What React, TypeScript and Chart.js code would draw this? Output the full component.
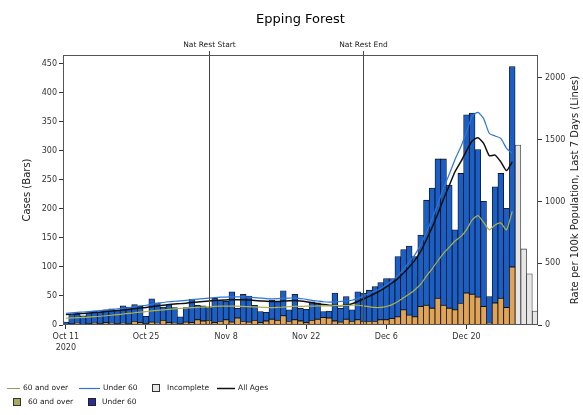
import React, { useEffect, useRef } from 'react';
import { Chart, registerables } from 'chart.js';
Chart.register(...registerables);

const dates = [
  'Oct 11','Oct 12','Oct 13','Oct 14','Oct 15','Oct 16','Oct 17','Oct 18','Oct 19','Oct 20','Oct 21','Oct 22','Oct 23','Oct 24','Oct 25','Oct 26','Oct 27','Oct 28','Oct 29','Oct 30','Oct 31',
  'Nov 1','Nov 2','Nov 3','Nov 4','Nov 5','Nov 6','Nov 7','Nov 8','Nov 9','Nov 10','Nov 11','Nov 12','Nov 13','Nov 14','Nov 15','Nov 16','Nov 17','Nov 18','Nov 19','Nov 20','Nov 21','Nov 22','Nov 23','Nov 24','Nov 25','Nov 26','Nov 27','Nov 28','Nov 29','Nov 30',
  'Dec 1','Dec 2','Dec 3','Dec 4','Dec 5','Dec 6','Dec 7','Dec 8','Dec 9','Dec 10','Dec 11','Dec 12','Dec 13','Dec 14','Dec 15','Dec 16','Dec 17','Dec 18','Dec 19','Dec 20','Dec 21','Dec 22','Dec 23','Dec 24','Dec 25','Dec 26','Dec 27','Dec 28','Dec 29','Dec 30','Dec 31',
  'Jan 1'
];
const tickDates = ['Oct 11', 'Oct 25', 'Nov 8', 'Nov 22', 'Dec 6', 'Dec 20'];
const firstTickYear = '2020';

const over60Cases = [
  1,2,3,1,2,3,2,4,3,2,3,2,6,4,2,5,3,8,4,3,2,5,4,9,7,8,4,6,9,5,12,6,5,8,4,7,10,8,16,6,9,7,4,8,10,13,12,7,5,10,6,
  9,6,6,6,9,9,11,14,26,17,14,32,34,29,46,34,29,26,37,55,53,48,32,3,38,46,30,100
];
const under60Cases = [
  4,16,16,15,19,21,20,22,25,23,30,29,29,28,13,40,35,23,31,27,12,25,40,25,26,22,42,36,32,52,17,47,45,26,19,15,33,33,43,20,44,22,23,32,28,10,12,48,24,39,20,
  48,49,54,60,64,71,69,104,104,119,104,123,181,207,240,252,212,138,224,307,312,254,181,46,200,215,171,345
];
const incompleteDates = ['Dec 29', 'Dec 30', 'Dec 31', 'Jan 1'];
const incompleteCases = [310, 131, 88, 24];

const rateOver60 = [
  55,57,59,61,64,67,71,75,79,84,89,
  94,99,104,109,114,119,123,127,131,134,
  137,140,142,145,147,150,152,152,153,152,
  150,148,146,144,142,140,142,145,148,150,
  150,152,153,154,155,155,156,157,158,160,
  160,155,148,142,142,150,165,190,220,250,
  285,330,395,455,520,580,630,680,715,770,
  850,885,830,770,810,825,770,920
];
const rateUnder60 = [
  95,98,102,105,108,112,116,120,125,130,135,
  140,148,155,160,168,175,182,188,192,196,
  200,205,210,214,218,222,225,226,228,228,
  227,225,222,218,214,212,213,216,218,220,
  214,208,200,194,188,185,186,190,195,200,
  215,235,255,275,295,325,360,400,450,510,
  570,650,750,860,980,1110,1220,1340,1440,1560,
  1690,1720,1670,1550,1530,1510,1430,1390
];
const rateAllAges = [
  85,88,91,94,97,101,105,109,113,117,121,
  126,132,137,142,148,154,160,165,169,173,
  177,182,187,191,195,198,201,203,205,205,
  204,202,199,195,192,190,191,194,196,198,
  194,188,180,172,165,160,157,156,160,172,
  190,210,232,255,280,308,340,375,420,470,
  525,595,690,790,900,1020,1130,1240,1320,1410,
  1490,1515,1470,1370,1375,1320,1250,1320
];

const restrictionDates = ['Nov 5', 'Dec 2'];
const restrictionLabels = ['Nat Rest Start', 'Nat Rest End'];

const casesMax = 465;
const casesTicks = [0, 50, 100, 150, 200, 250, 300, 350, 400, 450];
const rateMax = 2185;
const rateTicks = [0, 500, 1000, 1500, 2000];

const titleText = 'Epping Forest';
const leftTitle = 'Cases (Bars)';
const rightTitle = 'Rate per 100k Population, Last 7 Days (Lines)';

const C = {
  barBlue: '#1a5fc8',
  barOrange: '#e0a458',
  incFill: '#e6e6e6',
  incEdge: '#3a3a3a',
  lineOlive: '#b0b04a',
  lineBlue: '#2f74d6',
  lineBlack: '#111111',
  legOlive: '#a9a95e',
  legNavy: '#2c2c94',
  text: '#222222',
};
const FONT = '"DejaVu Sans", "Liberation Sans", sans-serif';

const decor = {
  id: 'decor',
  afterDatasetsDraw(chart: any) {
    const { ctx, chartArea: a, scales } = chart;
    ctx.save();
    ctx.strokeStyle = '#444';
    ctx.lineWidth = 1;
    restrictionDates.forEach((d, k) => {
      const x = Math.round(scales.x.getPixelForValue(dates.indexOf(d))) + 0.5;
      ctx.beginPath();
      ctx.moveTo(x, a.top);
      ctx.lineTo(x, a.bottom);
      ctx.moveTo(x, a.top - 4);
      ctx.lineTo(x, a.top);
      ctx.stroke();
      ctx.fillStyle = C.text;
      ctx.font = `7.5px ${FONT}`;
      ctx.textAlign = 'center';
      ctx.textBaseline = 'middle';
      ctx.fillText(restrictionLabels[k], x, a.top - 10);
    });
    ctx.strokeStyle = '#555';
    ctx.strokeRect(a.left + 0.5, a.top + 0.5, a.right - a.left - 1, a.bottom - a.top - 1);
    ctx.restore();
  },
  afterDraw(chart: any) {
    const { ctx, chartArea: a } = chart;
    ctx.save();
    ctx.fillStyle = '#000';
    ctx.font = `13px ${FONT}`;
    ctx.textAlign = 'center';
    ctx.textBaseline = 'middle';
    ctx.fillText(titleText, (a.left + a.right) / 2, 20);

    const midY = (a.top + a.bottom) / 2;
    ctx.fillStyle = C.text;
    ctx.font = `10px ${FONT}`;
    ctx.save();
    ctx.translate(27, midY);
    ctx.rotate(-Math.PI / 2);
    ctx.fillText(leftTitle, 0, 0);
    ctx.restore();
    ctx.save();
    ctx.translate(575, midY);
    ctx.rotate(-Math.PI / 2);
    ctx.fillText(rightTitle, 0, 0);
    ctx.restore();

    // legend
    const ds = chart.data.datasets;
    ctx.font = `7.5px ${FONT}`;
    ctx.textAlign = 'left';
    ctx.textBaseline = 'middle';
    const r1 = 388, r2 = 402;
    const line = (x0: number, x1: number, y: number, color: string, w: number) => {
      ctx.strokeStyle = color; ctx.lineWidth = w;
      ctx.beginPath(); ctx.moveTo(x0, y + 0.5); ctx.lineTo(x1, y + 0.5); ctx.stroke();
    };
    const box = (x: number, y: number, fill: string, edge: string) => {
      ctx.fillStyle = fill; ctx.fillRect(x, y - 4, 8, 8);
      ctx.strokeStyle = edge; ctx.lineWidth = 1; ctx.strokeRect(x + 0.5, y - 3.5, 7, 7);
    };
    const text = (s: string, x: number, y: number) => { ctx.fillStyle = C.text; ctx.fillText(s, x, y); };
    line(7, 20, r1, '#999966', 1); text(ds[3].label, 23, r1);
    line(79, 100, r1, C.lineBlue, 1.2); text(ds[4].label, 103, r1);
    box(152, r1, C.incFill, '#333'); text(ds[2].label, 167, r1);
    line(217, 235, r1, C.lineBlack, 1.5); text(ds[5].label, 238, r1);
    box(13, r2, C.legOlive, '#333'); text(ds[0].label, 28, r2);
    box(88, r2, C.legNavy, '#222'); text(ds[1].label, 102, r2);
    ctx.restore();
  },
};

export default function App() {
  const ref = useRef<HTMLCanvasElement>(null);
  useEffect(() => {
    document.body.style.margin = '0';
    const tickFont = { family: FONT, size: 8 };
    const barCommon = {
      type: 'bar' as const,
      stack: 'cases',
      yAxisID: 'y',
      order: 2,
      borderColor: '#111',
      borderWidth: 0.8,
      borderSkipped: false,
      barPercentage: 1,
      categoryPercentage: 1,
    };
    const lineCommon = {
      type: 'line' as const,
      yAxisID: 'y1',
      order: 0,
      pointRadius: 0,
      fill: false,
      tension: 0.2,
    };
    const chart = new Chart(ref.current!, {
      data: {
        labels: dates,
        datasets: [
          { ...barCommon, label: '60 and over', data: over60Cases, backgroundColor: C.barOrange },
          { ...barCommon, label: 'Under 60', data: under60Cases, backgroundColor: C.barBlue },
          {
            ...barCommon, label: 'Incomplete', backgroundColor: C.incFill, borderColor: C.incEdge,
            data: incompleteDates.map((d, k) => ({ x: d, y: incompleteCases[k] })),
          },
          { ...lineCommon, label: '60 and over', data: rateOver60, borderColor: C.lineOlive, borderWidth: 1.2 },
          { ...lineCommon, label: 'Under 60', data: rateUnder60, borderColor: C.lineBlue, borderWidth: 1.2 },
          { ...lineCommon, label: 'All Ages', data: rateAllAges, borderColor: C.lineBlack, borderWidth: 1.5 },
        ],
      } as any,
      options: {
        animation: false,
        responsive: false,
        layout: { padding: { top: 55, left: 0, right: 0, bottom: 0 } },
        plugins: { legend: { display: false }, tooltip: { enabled: false }, title: { display: false } },
        scales: {
          x: {
            stacked: true,
            offset: true,
            afterFit: (s: any) => { s.height = 90; },
            border: { display: false },
            grid: {
              drawOnChartArea: false,
              offset: false,
              tickLength: 4,
              color: (c: any) => (tickDates.includes(dates[c.index]) ? '#333' : 'rgba(0,0,0,0)'),
            },
            ticks: {
              autoSkip: false,
              maxRotation: 0,
              padding: 2,
              color: '#333',
              font: { ...tickFont, lineHeight: 1.45 },
              callback: (v: any, i: number) => {
                const d = dates[i];
                if (!tickDates.includes(d)) return '';
                return i === 0 ? [d, firstTickYear] : d;
              },
            },
          },
          y: {
            stacked: true,
            position: 'left',
            min: 0,
            max: casesMax,
            afterFit: (s: any) => { s.width = 63; },
            afterBuildTicks: (s: any) => { s.ticks = casesTicks.map((v) => ({ value: v })); },
            border: { display: false },
            grid: { drawOnChartArea: false, tickLength: 4, color: '#333' },
            ticks: { padding: 2, color: '#333', font: tickFont, callback: (v: any) => String(v) },
          },
          y1: {
            position: 'right',
            min: 0,
            max: rateMax,
            afterFit: (s: any) => { s.width = 45; },
            afterBuildTicks: (s: any) => { s.ticks = rateTicks.map((v) => ({ value: v })); },
            border: { display: false },
            grid: { drawOnChartArea: false, tickLength: 4, color: '#333' },
            ticks: { padding: 3, color: '#333', font: tickFont, callback: (v: any) => String(v) },
          },
        },
      } as any,
      plugins: [decor],
    });
    return () => chart.destroy();
  }, []);
  return <canvas ref={ref} width={583} height={415} style={{ display: 'block' }} />;
}
